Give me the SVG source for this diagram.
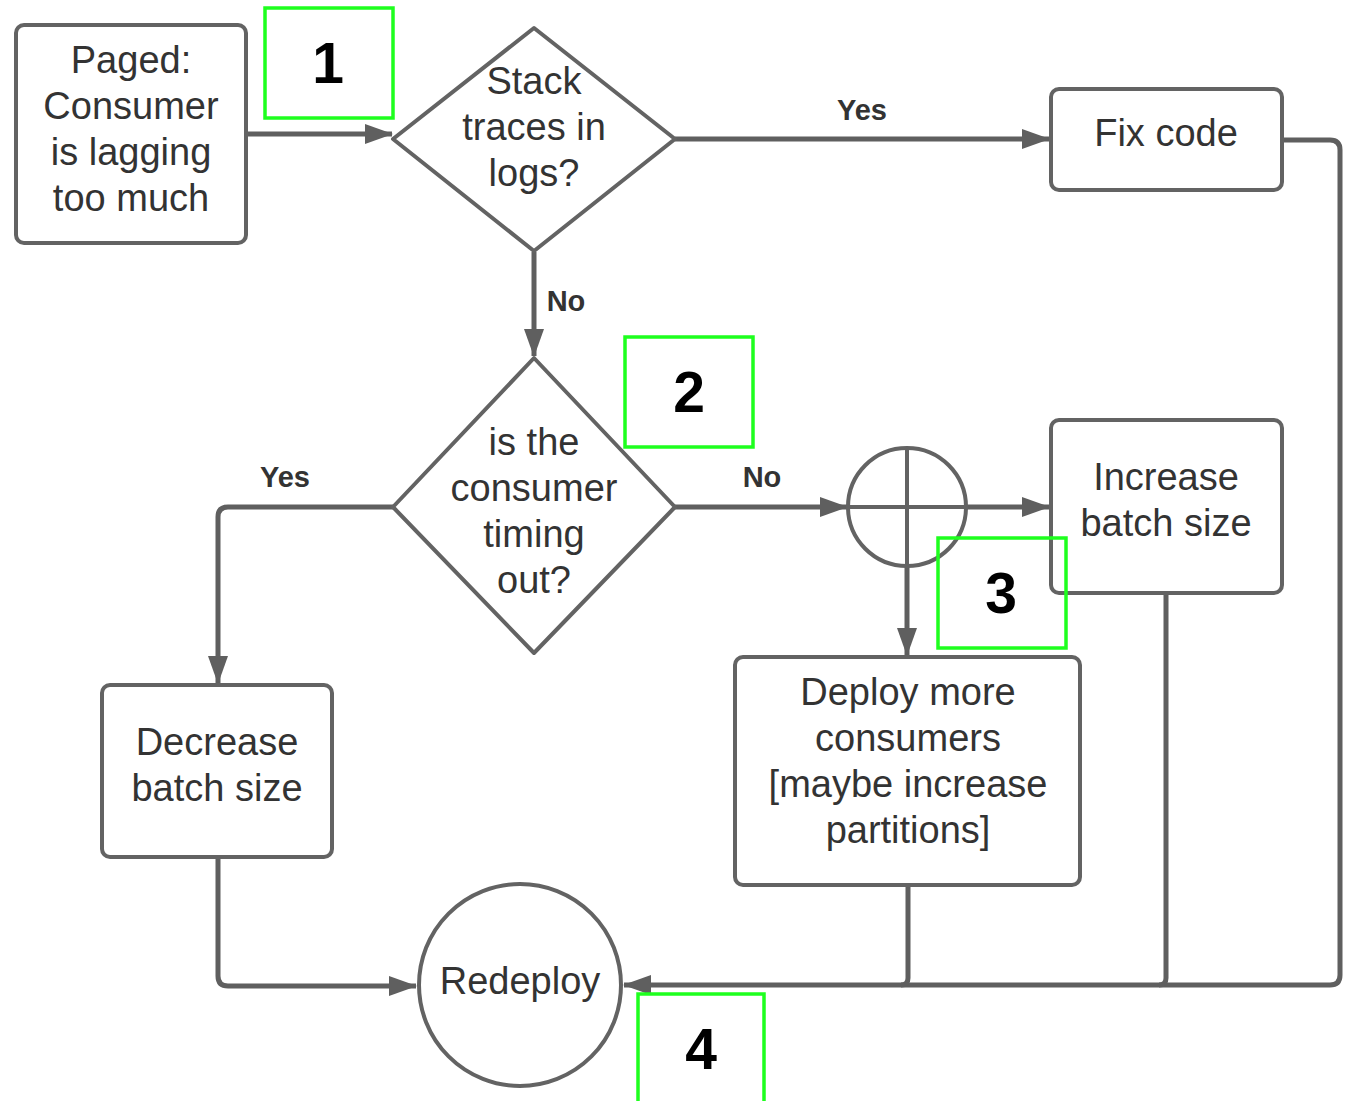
<svg xmlns="http://www.w3.org/2000/svg" width="1351" height="1101" viewBox="0 0 1351 1101">
  <style>
    .shape { fill: #ffffff; stroke: #636363; stroke-width: 4; stroke-linejoin: round; }
    .conn { fill: none; stroke: #5f5f5f; stroke-width: 5; stroke-linejoin: round; }
    .txt { font-family: "Liberation Sans", Arial, sans-serif; font-size: 38px; fill: #333333; text-anchor: middle; }
    .lbl { font-family: "Liberation Sans", Arial, sans-serif; font-size: 29px; font-weight: bold; fill: #333333; text-anchor: middle; }
    .tag { fill: none; stroke: #1eff1e; stroke-width: 3.5; }
    .num { font-family: "Liberation Sans", Arial, sans-serif; font-size: 57px; font-weight: bold; fill: #000000; text-anchor: middle; }
  </style>
  <defs>
    <marker id="arrow" markerUnits="userSpaceOnUse" markerWidth="28" markerHeight="20" refX="27" refY="10" orient="auto">
      <path d="M0,0 L28,10 L0,20 z" fill="#5f5f5f"/>
    </marker>
  </defs>
  <rect width="1351" height="1101" fill="#ffffff"/>

  <!-- connectors -->
  <g id="connectors">
    <path class="conn" d="M246,134 H392" marker-end="url(#arrow)"/>
    <path class="conn" d="M675,139 H1049" marker-end="url(#arrow)"/>
    <path class="conn" d="M534,252 V356" marker-end="url(#arrow)"/>
    <path class="conn" d="M393,507 H228 Q218,507 218,517 V683" marker-end="url(#arrow)"/>
    <path class="conn" d="M675,507 H847" marker-end="url(#arrow)"/>
    <path class="conn" d="M966,507 H1049" marker-end="url(#arrow)"/>
    <path class="conn" d="M907,566 V655" marker-end="url(#arrow)"/>
    <path class="conn" d="M218,857 V976 Q218,986 228,986 H416" marker-end="url(#arrow)"/>
    <path class="conn" d="M1282,140 H1330 Q1340,140 1340,150 V975 Q1340,985 1330,985 H624" marker-end="url(#arrow)"/>
    <path class="conn" d="M1166,593 V978 Q1166,985 1159,985"/>
    <path class="conn" d="M908,885 V978 Q908,985 901,985"/>
    <text class="lbl" x="862" y="120">Yes</text>
    <text class="lbl" x="566" y="311">No</text>
    <text class="lbl" x="285" y="487">Yes</text>
    <text class="lbl" x="762" y="487">No</text>
  </g>

  <!-- start: alert -->
  <g id="paged">
    <rect class="shape" x="16" y="25" width="230" height="218" rx="8"/>
    <text class="txt" x="131" y="73">Paged:</text>
    <text class="txt" x="131" y="119">Consumer</text>
    <text class="txt" x="131" y="165">is lagging</text>
    <text class="txt" x="131" y="211">too much</text>
  </g>

  <!-- decision: stack traces -->
  <g id="stack-traces">
    <path class="shape" d="M534,28 L675,139 L534,251 L393,139 Z"/>
    <text class="txt" x="534" y="94">Stack</text>
    <text class="txt" x="534" y="140">traces in</text>
    <text class="txt" x="534" y="186">logs?</text>
  </g>

  <g id="fix-code">
    <rect class="shape" x="1051" y="89" width="231" height="101" rx="8"/>
    <text class="txt" x="1166" y="146">Fix code</text>
  </g>

  <!-- decision: timeouts -->
  <g id="timing-out">
    <path class="shape" d="M534,358 L675,507 L534,653 L393,507 Z"/>
    <text class="txt" x="534" y="455">is the</text>
    <text class="txt" x="534" y="501">consumer</text>
    <text class="txt" x="534" y="547">timing</text>
    <text class="txt" x="534" y="593">out?</text>
  </g>

  <!-- fork into parallel actions -->
  <g id="fork">
    <circle class="shape" cx="907" cy="507" r="59"/>
    <path class="shape" d="M848,507 H966 M907,448 V566"/>
  </g>

  <g id="increase-batch">
    <rect class="shape" x="1051" y="420" width="231" height="173" rx="8"/>
    <text class="txt" x="1166" y="490">Increase</text>
    <text class="txt" x="1166" y="536">batch size</text>
  </g>

  <g id="decrease-batch">
    <rect class="shape" x="102" y="685" width="230" height="172" rx="8"/>
    <text class="txt" x="217" y="755">Decrease</text>
    <text class="txt" x="217" y="801">batch size</text>
  </g>

  <g id="deploy-more">
    <rect class="shape" x="735" y="657" width="345" height="228" rx="8"/>
    <text class="txt" x="908" y="705">Deploy more</text>
    <text class="txt" x="908" y="751">consumers</text>
    <text class="txt" x="908" y="797">[maybe increase</text>
    <text class="txt" x="908" y="843">partitions]</text>
  </g>

  <g id="redeploy">
    <circle class="shape" cx="520" cy="985" r="101"/>
    <text class="txt" x="520" y="994">Redeploy</text>
  </g>

  <!-- step markers -->
  <g id="step-1">
    <rect class="tag" x="265" y="8" width="128" height="110"/>
    <text class="num" x="328" y="83">1</text>
  </g>
  <g id="step-2">
    <rect class="tag" x="625" y="337" width="128" height="110"/>
    <text class="num" x="689" y="412">2</text>
  </g>
  <g id="step-3">
    <rect class="tag" x="938" y="538" width="128" height="110"/>
    <text class="num" x="1001" y="613">3</text>
  </g>
  <g id="step-4">
    <path class="tag" d="M638,1103 V994 H764 V1103"/>
    <text class="num" x="701" y="1069">4</text>
  </g>
</svg>
